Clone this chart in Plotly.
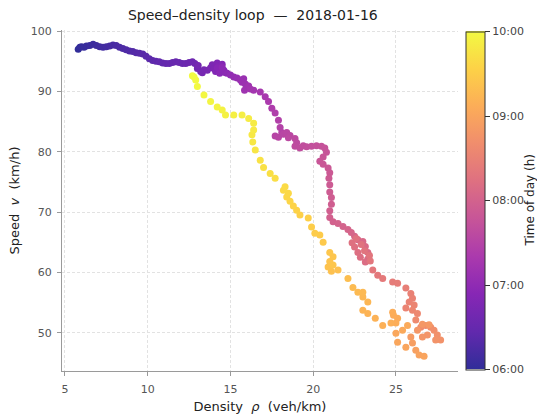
import plotly.graph_objects as go
import plotly.colors as pc

# ---- data ----
density = [
    # 06:00 - 06:36 (navy)
    5.8, 5.9, 6.0, 6.15, 6.3, 6.5, 6.7, 6.9, 7.1, 7.3, 7.5, 7.7, 7.9, 8.1, 8.3, 8.5, 8.7, 8.9, 9.1,
    9.3, 9.5, 9.7, 9.9, 10.1, 10.3, 10.5, 10.7, 10.9, 11.1, 11.3, 11.5, 11.7, 11.9, 12.1, 12.3, 12.5, 12.7, 12.85,
    # purple cluster
    13.0, 13.2, 13.05, 13.4, 13.3, 13.6, 13.8, 13.9, 14.0, 14.2, 14.1, 14.3, 14.4, 14.5, 14.2, 14.6,
    14.35, 14.7, 14.8, 14.5, 15.0, 15.2, 15.4, 15.6, 15.8, 15.7, 15.9, 16.0, 15.85, 16.1, 16.2,
    # magenta descent
    16.4, 16.8, 17.1, 17.3, 17.5, 17.7, 17.9, 18.0, 18.1, 17.7, 17.9, 18.2, 18.4, 18.6, 18.5, 18.9,
    19.0, 18.9, 19.2, 19.4, 19.6, 19.9, 20.2, 20.5, 20.7, 20.8, 20.6, 20.4, 20.6, 20.9, 21.0, 20.95,
    21.0, 21.0, 21.1, 21.1, 21.0, 21.0, 21.2, 21.5, 21.8, 22.1, 22.3, 22.5,
    # loop
    22.7, 23.0, 23.15, 23.3, 23.3, 23.15, 22.85, 22.7, 22.5, 22.35, 22.6, 22.9, 23.1, 23.4, 23.45,
    # congested tip
    23.6, 23.9, 24.2, 24.8, 25.1, 25.6, 25.9, 26.0, 25.8, 25.6, 26.1, 26.0, 26.3, 26.2, 26.5, 26.8,
    27.1, 27.3, 27.5, 27.7, 27.4, 26.9, 26.6, 26.3, 26.6, 27.0,
    # recovery (orange)
    25.9, 26.0, 26.2, 26.4, 26.7, 25.6, 25.1, 25.0, 25.4, 25.7, 25.1, 24.85, 24.8, 25.0, 24.7, 24.2, 23.75,
    # recovery (yellow)
    23.3, 23.0, 23.3, 23.0, 23.0, 22.7, 22.4, 22.1, 21.5, 21.1, 20.9, 21.0, 21.2, 21.0, 21.2, 20.6,
    20.4, 20.1, 19.9, 19.7, 19.2, 19.0, 18.8, 18.6, 18.4, 18.5, 18.2, 18.3, 17.7, 17.4, 17.0, 16.8,
    16.5, 16.35, 16.3, 16.4, 16.4, 16.1, 15.7, 15.2, 14.7, 14.5, 14.2, 13.8, 13.4, 13.0, 12.9, 12.8, 12.7,
]
speed = [
    97.0, 97.3, 97.4, 97.3, 97.5, 97.6, 97.8, 97.6, 97.4, 97.3, 97.4, 97.5, 97.7, 97.6, 97.3, 97.1, 96.9, 96.7, 96.6,
    96.4, 96.3, 96.2, 95.8, 95.4, 95.1, 95.0, 94.9, 94.7, 94.6, 94.6, 94.8, 94.9, 94.8, 94.6, 94.6, 94.8, 94.9, 94.6,
    93.8, 93.3, 94.3, 93.6, 93.1, 93.5, 93.9, 94.4, 93.8, 94.7, 93.3, 94.2, 93.6, 94.5, 93.9, 93.5,
    93.0, 93.1, 93.0, 94.0, 92.7, 92.4, 92.2, 91.9, 92.1, 91.5, 91.2, 90.7, 90.2, 90.9, 90.4,
    90.2, 89.9, 89.1, 88.3, 87.2, 86.4, 85.2, 84.0, 83.2, 82.6, 82.4, 82.9, 83.2, 82.7, 82.3, 82.2,
    81.5, 80.9, 80.6, 81.0, 80.8, 80.9, 81.0, 80.9, 80.6, 79.9, 79.1, 78.4, 77.9, 77.3, 76.5, 75.6,
    74.5, 73.3, 72.4, 71.3, 70.2, 69.1, 68.4, 68.1, 67.6, 67.1, 66.6, 66.0,
    65.4, 65.1, 64.3, 63.3, 62.2, 61.7, 62.5, 63.3, 64.2, 64.9, 65.6, 64.6, 63.6, 62.8, 61.9,
    60.4, 59.5, 59.0, 58.4, 58.2, 57.4, 56.5, 55.7, 55.1, 54.1, 54.6, 53.7, 53.2, 52.1, 50.9, 51.2,
    50.9, 50.4, 49.6, 48.8, 48.8, 49.6, 49.3, 50.4, 51.4, 51.3,
    49.3, 48.3, 47.1, 46.3, 46.1, 47.6, 48.4, 49.9, 50.4, 51.2, 52.4, 52.9, 53.4, 51.6, 51.6, 51.2, 52.4,
    53.2, 53.7, 55.1, 55.9, 56.7, 56.7, 57.5, 59.0, 60.4, 60.2, 60.9, 61.8, 62.6, 63.3, 61.2, 65.0,
    66.2, 66.5, 67.5, 69.0, 69.5, 70.3, 71.0, 71.8, 72.5, 73.1, 73.6, 74.2, 75.6, 76.4, 77.4, 78.6,
    80.3, 81.6, 82.8, 83.6, 84.7, 85.5, 86.1, 86.1, 86.1, 86.9, 87.4, 88.3, 89.4, 90.8, 91.9, 92.4, 92.6,
]
minute = [  # minutes after 06:00
    0, 1, 2, 3, 4, 5, 6, 7, 8, 9, 10, 11, 12, 13, 14, 15, 16, 17, 18,
    19, 20, 21, 22, 23, 24, 25, 26, 27, 28, 29, 30, 31, 32, 32, 33, 34, 35, 36,
    38, 39, 40, 41, 42, 43, 45, 46, 47, 48, 49, 50, 51, 52, 53, 54,
    55, 56, 57, 58, 60, 62, 64, 66, 67, 68, 69, 70, 71, 72, 73,
    74, 76, 78, 80, 82, 84, 86, 88, 89, 90, 91, 92, 93, 94, 95, 96,
    97, 98, 99, 100, 101, 102, 103, 104, 105, 106, 107, 108, 109, 110, 111, 112,
    113, 114, 115, 116, 117, 118, 119, 120, 121, 122, 123, 124,
    125, 126, 127, 128, 129, 130, 131, 132, 133, 134, 135, 136, 137, 138, 139,
    140, 141, 142, 144, 145, 147, 149, 150, 151, 152, 153, 154, 155, 157, 159, 160,
    161, 162, 163, 164, 165, 166, 167, 168, 169, 170,
    172, 174, 176, 178, 179, 180, 181, 182, 183, 184, 185, 186, 187, 187, 188, 189, 190,
    191, 192, 193, 194, 195, 196, 197, 199, 200, 201, 202, 203, 204, 205, 205, 207,
    208, 209, 210, 211, 212, 213, 214, 215, 216, 217, 218, 219, 221, 222, 223, 224,
    226, 227, 228, 229, 230, 231, 232, 233, 234, 235, 236, 237, 238, 239, 239, 240, 240,
]
hour_ticks = [6, 7, 8, 9, 10]
hour_labels = ["06:00", "07:00", "08:00", "09:00", "10:00"]

hours = [6 + m / 60 for m in minute]

# plasma blended with white (alpha ~0.85 look)
def soften(c, a=0.85):
    r, g, b = pc.hex_to_rgb(c)
    f = lambda v: int(round(v * a + 255 * (1 - a)))
    return f"rgb({f(r)},{f(g)},{f(b)})"

base = pc.sequential.Plasma
scale = [[i / (len(base) - 1), soften(c)] for i, c in enumerate(base)]

FONT = "DejaVu Sans"
PLOT_L, PLOT_W = 62, 396

fig = go.Figure(go.Scatter(
    x=density, y=speed, mode="markers",
    marker=dict(
        size=7, color=hours, colorscale=scale, cmin=6, cmax=10,
        line=dict(width=0),
        colorbar=dict(
            x=1.02, xanchor="left", xpad=0, y=0.5, yanchor="middle", ypad=0,
            thickness=19, len=338, lenmode="pixels",
            outlinewidth=1, outlinecolor="#333",
            tickvals=hour_ticks, ticktext=hour_labels,
            ticks="outside", ticklen=5, tickcolor="#333",
            tickfont=dict(family=FONT, size=11, color="#444"),
        ),
    ),
    hoverinfo="skip", showlegend=False,
))

# colorbar title as a rotated annotation so that it stays inside the page
fig.add_annotation(
    text="Time of day (h)", textangle=-90, showarrow=False,
    xref="paper", yref="paper", x=(529 - PLOT_L) / PLOT_W, y=0.5,
    xanchor="center", yanchor="middle",
    font=dict(family=FONT, size=12, color="#222"),
)

axis_common = dict(
    showline=True, linecolor="#9a9a9a", linewidth=1,
    ticks="outside", ticklen=4, tickcolor="#9a9a9a",
    showgrid=True, gridcolor="#e2e2e2", griddash="3px,2px", gridwidth=1,
    zeroline=False, mirror=False,
    tickfont=dict(family=FONT, size=11, color="#555"),
)

fig.update_layout(
    width=537, height=417,
    margin=dict(l=62, r=79, t=30, b=46, autoexpand=False),
    paper_bgcolor="white", plot_bgcolor="white",
    font=dict(family=FONT, color="#222"),
    title=dict(text="Speed–density loop  —  2018-01-16", x=0.482, xref="paper",
               xanchor="center", y=1 - 15 / 417, yref="container", yanchor="middle",
               font=dict(family=FONT, size=14, color="#222")),
    xaxis=dict(range=[4.82, 28.75], tickvals=[5, 10, 15, 20, 25],
               ticklabelstandoff=4,
               title=dict(text="Density\u00a0 <i>ρ</i>\u00a0 (veh/km)", standoff=6,
                          font=dict(family=FONT, size=13, color="#222")),
               **axis_common),
    yaxis=dict(range=[43.65, 100.17], tickvals=[50, 60, 70, 80, 90, 100],
               ticklabelstandoff=3,
               title=dict(text="Speed\u00a0 <i>v</i>\u00a0 (km/h)", standoff=8,
                          font=dict(family=FONT, size=13, color="#222")),
               **axis_common),
)

fig.write_html("out.html")
